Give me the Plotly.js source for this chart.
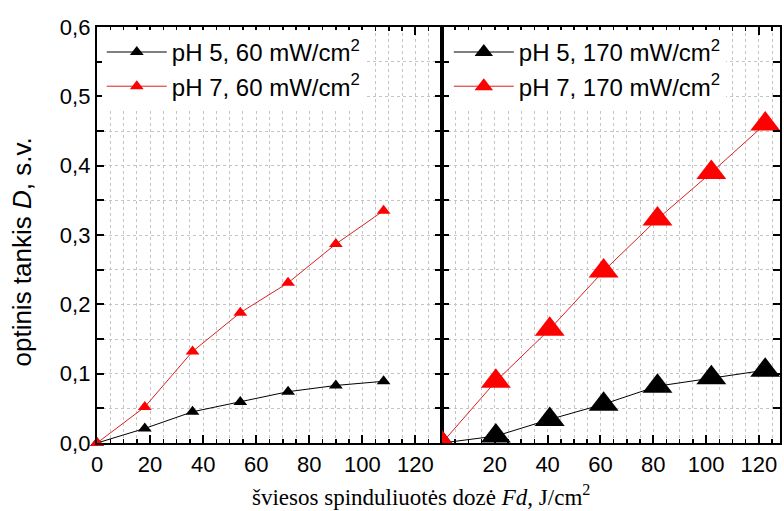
<!DOCTYPE html>
<html>
<head>
<meta charset="utf-8">
<script src="https://cdn.plot.ly/plotly-3.0.1.min.js"></script>
<style>html,body{margin:0;padding:0;background:#fff;}</style>
</head>
<body>
<div id="chart" style="width:784px;height:511px;"></div>
<script>
// Left panel: 60 mW/cm2
const doseLeft = [0, 18, 36, 54, 72, 90, 108];
const pH5_60 = [0, 0.021, 0.045, 0.059, 0.074, 0.083, 0.089];
const pH7_60 = [0, 0.052, 0.132, 0.188, 0.231, 0.287, 0.335];
// Right panel: 170 mW/cm2
const doseRight = [0, 20.4, 40.8, 61.2, 81.6, 102, 122.4];
const pH5_170 = [0, 0.010, 0.034, 0.056, 0.082, 0.094, 0.105];
const pH7_170 = [0, 0.089, 0.164, 0.248, 0.323, 0.390, 0.460];

const xTickVals = [0, 20, 40, 60, 80, 100, 120];
const xTickLeft = ['0', '20', '40', '60', '80', '100', '120'];
const xTickRight = ['', '20', '40', '60', '80', '100', '120'];
const legendNames = ['pH 5, 60 mW/cm<sup>2</sup>', 'pH 7, 60 mW/cm<sup>2</sup>',
                     'pH 5, 170 mW/cm<sup>2</sup>', 'pH 7, 170 mW/cm<sup>2</sup>'];

const BLACK = '#000000', RED = '#ff0000', REDLINE = '#d82020';
const FONT = 'Liberation Sans, Arial, sans-serif';

const traces = [
  {x: doseLeft, y: pH5_60, name: legendNames[0], type: 'scatter', mode: 'lines+markers',
   xaxis: 'x', yaxis: 'y', legend: 'legend', cliponaxis: false,
   line: {color: BLACK, width: 1}, marker: {symbol: 'triangle-up', size: 12, color: BLACK}},
  {x: doseLeft, y: pH7_60, name: legendNames[1], type: 'scatter', mode: 'lines+markers',
   xaxis: 'x', yaxis: 'y', legend: 'legend', cliponaxis: false,
   line: {color: REDLINE, width: 1}, marker: {symbol: 'triangle-up', size: 12, color: RED}},
  {x: doseRight, y: pH5_170, name: legendNames[2], type: 'scatter', mode: 'lines+markers',
   xaxis: 'x2', yaxis: 'y2', legend: 'legend2', cliponaxis: true,
   line: {color: BLACK, width: 1}, marker: {symbol: 'triangle-up', size: 26, color: BLACK}},
  {x: doseRight, y: pH7_170, name: legendNames[3], type: 'scatter', mode: 'lines+markers',
   xaxis: 'x2', yaxis: 'y2', legend: 'legend2', cliponaxis: true,
   line: {color: REDLINE, width: 1}, marker: {symbol: 'triangle-up', size: 26, color: RED}}
];

const split = 0.5051;
const GRID = '#c4c4c4';
function xAxis(domain, range, ticktext, anchor) {
  return {
    domain: domain, range: range, anchor: anchor,
    tickvals: xTickVals, ticktext: ticktext,
    ticks: 'inside', ticklen: 8, tickwidth: 2, tickcolor: BLACK,
    showline: true, linecolor: BLACK, linewidth: 2.2, mirror: 'ticks',
    zeroline: false, fixedrange: true,
    showgrid: true, gridcolor: GRID, griddash: 'dot', gridwidth: 1,
    tickfont: {family: FONT, size: 22, color: BLACK},
    minor: {dtick: 5, ticks: 'inside', ticklen: 4, tickwidth: 1.5, tickcolor: BLACK,
            showgrid: true, gridcolor: GRID, griddash: 'dot', gridwidth: 1}
  };
}
function yAxis(anchor, labels) {
  return {
    domain: [0, 1], range: [0, 0.6], anchor: anchor, dtick: 0.1, tick0: 0,
    tickformat: '.1f', showticklabels: labels,
    ticks: 'inside', ticklen: 7, tickwidth: 2, tickcolor: BLACK,
    showline: true, linecolor: BLACK, linewidth: 2.2, mirror: 'ticks',
    zeroline: false, fixedrange: true,
    showgrid: true, gridcolor: GRID, griddash: 'dot', gridwidth: 1,
    tickfont: {family: FONT, size: 22, color: BLACK},
    minor: {dtick: 0.05, ticks: 'inside', ticklen: 7, tickwidth: 2, tickcolor: BLACK,
            showgrid: true, gridcolor: GRID, griddash: 'dot', gridwidth: 1}
  };
}

const legendBase = {xanchor: 'left', yanchor: 'top', bgcolor: '#ffffff',
  borderwidth: 0, font: {family: FONT, size: 24, color: BLACK},
  itemsizing: 'trace', itemwidth: 60, tracegroupgap: 0};

const y2 = yAxis('x2', false);
y2.matches = 'y';

const layout = {
  width: 784, height: 511,
  margin: {l: 97, r: 4, t: 27, b: 68, pad: 0},
  paper_bgcolor: '#ffffff', plot_bgcolor: '#ffffff',
  separators: ', ',
  font: {family: FONT, size: 22, color: BLACK},
  showlegend: true,
  xaxis: xAxis([0, split], [0, 130], xTickLeft, 'y'),
  xaxis2: xAxis([split, 1], [0, 128], xTickRight, 'y2'),
  yaxis: yAxis('x', true),
  yaxis2: y2,
  legend: Object.assign({x: 0.007, y: 0.993}, legendBase),
  legend2: Object.assign({x: split + 0.01, y: 0.993}, legendBase),
  annotations: [
    {text: 'optinis tankis <i>D</i>, s.v.', xref: 'paper', yref: 'paper',
     x: -0.11, y: 0.46, xanchor: 'center', yanchor: 'middle', textangle: -90,
     showarrow: false, font: {family: FONT, size: 26, color: BLACK}},
    {text: 'šviesos spinduliuotės dozė <i>Fd</i>, J/cm<sup>2</sup>', xref: 'paper', yref: 'paper',
     x: 0.4744, y: -0.125, xanchor: 'center', yanchor: 'middle',
     showarrow: false, font: {family: 'Liberation Serif, Times New Roman, serif', size: 23, color: BLACK}}
  ]
};

Plotly.newPlot('chart', traces, layout, {displayModeBar: false, staticPlot: true});
</script>
</body>
</html>
